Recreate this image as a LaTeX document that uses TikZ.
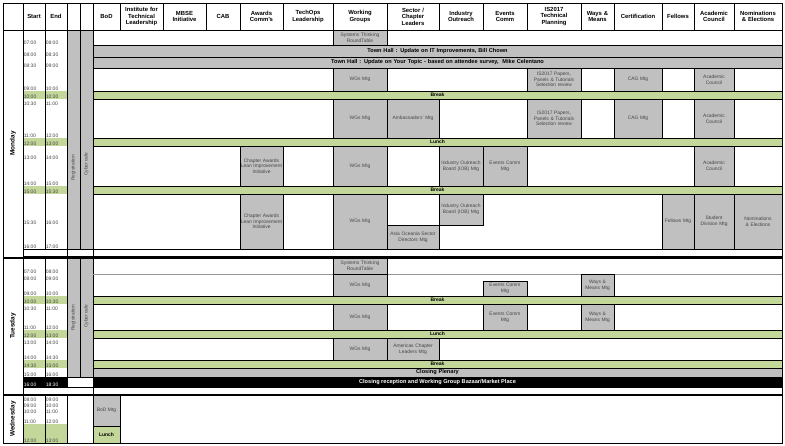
\documentclass[tikz,border=0pt]{standalone}
\usepackage{fontspec}
\setmainfont{Liberation Sans}
\usetikzlibrary{positioning}
\definecolor{slotgray}{RGB}{192,192,192}
\definecolor{breakgreen}{RGB}{196,215,155}
\definecolor{gridgray}{RGB}{150,150,150}
\definecolor{slottext}{RGB}{70,70,70}

% box from (x1,y1) to (x2,y2) in pixels
\newcommand{\cell}[7]{%
  \node[#1, minimum width={(#5-#3)*1pt}, minimum height={(#6-#4)*1pt},
        text width={(#5-#3-1.5)*1pt}] (#2) at ({(#3+#5)/2},{(#4+#6)/2}) {#7};}

\begin{document}
\hyphenpenalty=10000
\exhyphenpenalty=10000
\begin{tikzpicture}[x=1pt, y=-1pt,
    hdr/.style={draw, fill=white, font=\fontsize{5.9}{6.4}\selectfont\bfseries, align=center, inner sep=0pt},
    evbox/.style={draw, fill=slotgray, font=\fontsize{4.9}{5.7}\selectfont, text=slottext, align=center, inner sep=0pt},
    band/.style={draw, fill=slotgray, font=\fontsize{5.6}{6}\selectfont\bfseries, align=center, inner sep=0pt},
    brk/.style={draw, fill=breakgreen, font=\fontsize{5}{5.5}\selectfont\bfseries, align=center, inner sep=0pt},
    plain/.style={draw, fill=white, inner sep=0pt},
    tlabel/.style={font=\fontsize{5}{5.5}\selectfont, text=slottext, anchor=south west, inner sep=0.6pt},
    dayname/.style={rotate=90, font=\fontsize{6.4}{7}\selectfont\bfseries},
    vlabel/.style={rotate=90, font=\fontsize{4.8}{5}\selectfont, text=slottext}]
  \useasboundingbox (0,0) rectangle (785,446);
  \fill[white] (0,0) rectangle (785,446);

  % Header row
  \foreach \xa/\xb/\nm/\txt in {3/23/hDay/{}, 23/45/hStart/Start, 45/67/hEnd/End, 67/80/hReg/{}, 80/93/hCyb/{},
      93/120/hBoD/BoD, 120/163/hITL/{Institute for\\Technical\\Leadership}, 163/206/hMBSE/{MBSE\\Initiative},
      206/240/hCAB/CAB, 240/283/hAwd/{Awards\\Comm's}, 283/333/hTech/{TechOps\\Leadership},
      333/387/hWG/{Working\\Groups}, 387/439/hSec/{Sector /\\Chapter\\Leaders}, 439/483/hInd/{Industry\\Outreach},
      483/527/hEvt/{Events\\Comm}, 527/581/hIS/{IS2017\\Technical\\Planning}, 581/614/hWM/{Ways \&\\Means},
      614/662/hCert/Certification, 662/694/hFel/Fellows, 694/734/hAcad/{Academic\\Council},
      734/782/hNom/{Nominations\\\& Elections}} {
    \cell{hdr}{\nm}{\xa}{3}{\xb}{30}{\txt}
  }

  % === MONDAY ===
  \cell{plain}{mDay}{3}{30}{23}{257}{}
  \node[dayname] (tMon) at (mDay) {Monday};
  \cell{plain}{mArea}{93}{30}{782}{256}{}
  \foreach \ya/\yb/\s/\e/\f [count=\i] in {30/45/07:00/08:00/white, 45/57/08:00/08:30/white, 57/68/08:30/09:00/white,
      68/91/09:00/10:00/white, 91/99/10:00/10:30/breakgreen, 99/106/10:30/11:00/white, 106/138/11:00/12:00/white,
      138/146/12:00/13:00/breakgreen, 146/160/13:00/14:00/white, 160/186/14:00/15:00/white,
      186/194/15:00/15:30/breakgreen, 194/225/15:30/16:00/white, 225/249/16:00/17:00/white} {
    \fill[\f] (23,\ya) rectangle (67,\yb);
    \draw[gridgray, line width=0.4pt] (23,\yb) -- (67,\yb);
    \node[tlabel] (mS\i) at (23,\yb) {\s};
    \node[tlabel] (mE\i) at (45,\yb) {\e};
  }
  \draw[line width=0.5pt] (23,30) rectangle (67,256) (45,30) -- (45,249) (23,249) -- (67,249);
  \cell{evbox}{mReg}{67}{30}{80}{249}{}
  \cell{evbox}{mCyb}{80}{30}{93}{249}{}
  \node[vlabel] (lReg) at (73.5,168) {Registration};
  \node[vlabel] (lCyb) at (86.5,164) {Cyber cafe};
  \draw (67,249) rectangle (93,256);

  \cell{evbox}{mSys}{333}{30}{387}{45}{Systems Thinking RoundTable}
  \cell{band}{mTownA}{93}{45}{782}{57}{Town Hall : Update on IT Improvements, Bill Chown}
  \cell{band}{mTownB}{93}{57}{782}{68}{Town Hall : Update on Your Topic - based on attendee survey,\ \ Mike Celentano}
  % morning sessions
  \cell{evbox}{mWGa}{333}{68}{387}{91}{WGs Mtg}
  \cell{evbox}{mISa}{527}{68}{581}{91}{IS2017 Papers, Panels \& Tutorials Selection review}
  \cell{evbox}{mCAGa}{614}{68}{662}{91}{CAG Mtg}
  \cell{evbox}{mACa}{694}{68}{734}{91}{Academic Council}
  \cell{brk}{mBrkA}{93}{91}{782}{99}{Break}
  \cell{evbox}{mWGb}{333}{99}{387}{138}{WGs Mtg}
  \cell{evbox}{mAmb}{387}{99}{439}{138}{Ambassadors' Mtg}
  \cell{evbox}{mISb}{527}{99}{581}{138}{IS2017 Papers, Panels \& Tutorials Selection review}
  \cell{evbox}{mCAGb}{614}{99}{662}{138}{CAG Mtg}
  \cell{evbox}{mACb}{694}{99}{734}{138}{Academic Council}
  \cell{brk}{mLunch}{93}{138}{782}{146}{Lunch}
  % afternoon sessions
  \cell{evbox}{mChpA}{240}{146}{283}{186}{Chapter Awards Lean Improvement Initiative}
  \cell{evbox}{mWGc}{333}{146}{387}{186}{WGs Mtg}
  \cell{evbox}{mIOBa}{439}{146}{483}{186}{Industry Outreach Board (IOB) Mtg}
  \cell{evbox}{mEvt}{483}{146}{527}{186}{Events Comm\\Mtg\\[8pt]}
  \cell{evbox}{mACc}{694}{146}{734}{186}{Academic Council}
  \cell{brk}{mBrkB}{93}{186}{782}{194}{Break}
  \cell{evbox}{mChpB}{240}{194}{283}{249}{Chapter Awards Lean Improvement Initiative}
  \cell{evbox}{mWGd}{333}{194}{387}{249}{WGs Mtg}
  \cell{evbox}{mIOBb}{439}{194}{483}{225}{Industry Outreach Board (IOB) Mtg}
  \cell{evbox}{mAsia}{387}{225}{439}{249}{Asia Oceania Sector Directors Mtg}
  \cell{evbox}{mFel}{662}{194}{694}{249}{Fellows Mtg}
  \cell{evbox}{mStu}{694}{194}{734}{249}{Student Division Mtg}
  \cell{evbox}{mNom}{734}{194}{782}{249}{Nominations \& Elections}
  \draw (93,249) -- (782,249);
  \draw[line width=1.5pt] (3,257.5) -- (782,257.5);

  % === TUESDAY ===
  \cell{plain}{tDay}{3}{258}{23}{394}{}
  \node[dayname] (tTue) at (tDay) {Tuesday};
  \cell{plain}{tArea}{93}{258}{782}{394}{}
  \foreach \ya/\yb/\s/\e/\f/\c [count=\i] in {258/274/07:00/08:00/white/slottext, 274/281/08:00/09:00/white/slottext,
      281/296/09:00/10:00/white/slottext, 296/304/10:00/10:30/breakgreen/slottext, 304/311/10:30/11:00/white/slottext,
      311/330/11:00/12:00/white/slottext, 330/338/12:00/13:00/breakgreen/slottext, 338/345/13:00/14:00/white/slottext,
      345/360/14:00/14:30/white/slottext, 360/368/14:30/15:00/breakgreen/slottext, 368/377/15:00/16:00/white/slottext,
      377/387/16:00/18:30/black/white} {
    \fill[\f] (23,\ya) rectangle (67,\yb);
    \draw[gridgray, line width=0.4pt] (23,\yb) -- (67,\yb);
    \node[tlabel, text=\c] (tS\i) at (23,\yb) {\s};
    \node[tlabel, text=\c] (tE\i) at (45,\yb) {\e};
  }
  \draw[line width=0.5pt] (23,258) rectangle (67,387) (45,258) -- (45,377);
  \cell{evbox}{tReg}{67}{258}{80}{377}{}
  \cell{evbox}{tCyb}{80}{258}{93}{377}{}
  \node[vlabel] (lRegT) at (73.5,318) {Registration};
  \node[vlabel] (lCybT) at (86.5,316) {Cyber cafe};
  \draw (67,377) rectangle (93,387);

  \cell{evbox}{tSys}{333}{258}{387}{274}{Systems Thinking RoundTable\\[2pt]}
  \draw[gridgray] (93,274) -- (782,274);
  \cell{evbox}{tWGa}{333}{274}{387}{296}{WGs Mtg\\[6pt]}
  \cell{evbox}{tEvtA}{483}{281}{527}{296}{Events Comm\\Mtg}
  \cell{evbox}{tWMa}{581}{274}{614}{296}{Ways \& Means Mtg}
  \cell{brk}{tBrkA}{93}{296}{782}{304}{Break}
  \cell{evbox}{tWGb}{333}{304}{387}{330}{WGs Mtg}
  \cell{evbox}{tEvtB}{483}{304}{527}{330}{Events Comm\\Mtg\\[5pt]}
  \cell{evbox}{tWMb}{581}{304}{614}{330}{Ways \& Means Mtg\\[5pt]}
  \cell{brk}{tLunch}{93}{330}{782}{338}{Lunch}
  \cell{evbox}{tWGc}{333}{338}{387}{360}{WGs Mtg}
  \cell{evbox}{tAmer}{387}{338}{439}{360}{Americas Chapter Leaders Mtg}
  \cell{brk}{tBrkB}{93}{360}{782}{368}{Break}
  \cell{band}{tPlen}{93}{368}{782}{377}{Closing Plenary}
  \node[draw, fill=black, text=white, font=\fontsize{5.6}{6}\selectfont\bfseries, inner sep=0pt,
        minimum width=689pt, minimum height=10pt] (tRecep) at (437.5,382)
        {Closing reception and Working Group Bazaar/Market Place};
  \draw[line width=1.5pt] (3,394.5) -- (782,394.5);

  % === WEDNESDAY ===
  \cell{plain}{wDay}{3}{395}{782}{443}{}
  \draw (23,395) -- (23,443);
  \node[dayname] (tWed) at (13,419) {Wednesday};
  \foreach \ya/\yb/\s/\e/\f [count=\i] in {395/402/08:00/09:00/white, 402/408/09:00/10:00/white,
      408/414/10:00/11:00/white, 414/424/11:00/12:00/white, 424/443/12:00/13:00/breakgreen} {
    \fill[\f] (23,\ya) rectangle (67,\yb);
    \draw[gridgray, line width=0.4pt] (23,\yb) -- (67,\yb);
    \node[tlabel] (wS\i) at (23,\yb) {\s};
    \node[tlabel] (wE\i) at (45,\yb) {\e};
  }
  \draw[line width=0.5pt] (23,395) rectangle (67,443) (45,395) -- (45,443);
  \cell{evbox}{wBoD}{93}{395}{120}{426}{BoD Mtg}
  \cell{brk}{wLunch}{93}{426}{120}{443}{Lunch}
  \draw (3,3) rectangle (782,443);
\end{tikzpicture}
\end{document}
